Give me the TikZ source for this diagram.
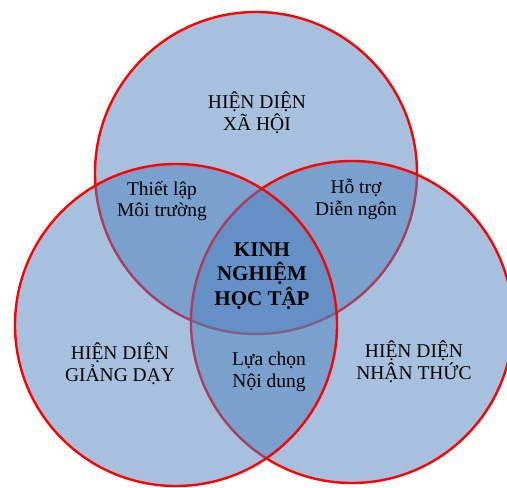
\documentclass[tikz,border=0pt]{standalone}
\usepackage{fontspec}
\setmainfont{Liberation Serif}
\definecolor{vongxanh}{RGB}{79,129,189}
\tikzset{
  vong/.style={draw=red, line width=2.4pt, fill=vongxanh, fill opacity=0.5, draw opacity=1},
  nhan/.style={align=center, inner sep=0pt, text=black, font=\fontsize{19.5}{21.8}\selectfont},
  nhanchinh/.style={nhan, font=\fontsize{21}{24.5}\selectfont\bfseries}
}
\begin{document}
\begin{tikzpicture}[x=1pt,y=-1pt]
\useasboundingbox (0,0) rectangle (507,488);

% ba vong tron
\draw [vong] (256,173) circle (161);
\draw [vong] (352,322) circle (161);
\draw [vong] (176,325) circle (161);

% nhan
\node [nhan] (xahoi) at (257,113) {HIỆN DIỆN\\XÃ HỘI};
\node [nhan] (moitruong) at (162,201) {Thiết lập\\Môi trường};
\node [nhan] (diengon) at (356,199) {Hỗ trợ\\Diễn ngôn};
\node [nhanchinh] (kinhnghiem) at (262,276) {KINH\\NGHIỆM\\HỌC TẬP};
\node [nhan] (giangday) at (120,364) {HIỆN DIỆN\\GIẢNG DẠY};
\node [nhan] (noidung) at (269,372) {Lựa chọn\\Nội dung};
\node [nhan] (nhanthuc) at (414,362) {HIỆN DIỆN\\NHẬN THỨC};
\end{tikzpicture}
\end{document}
